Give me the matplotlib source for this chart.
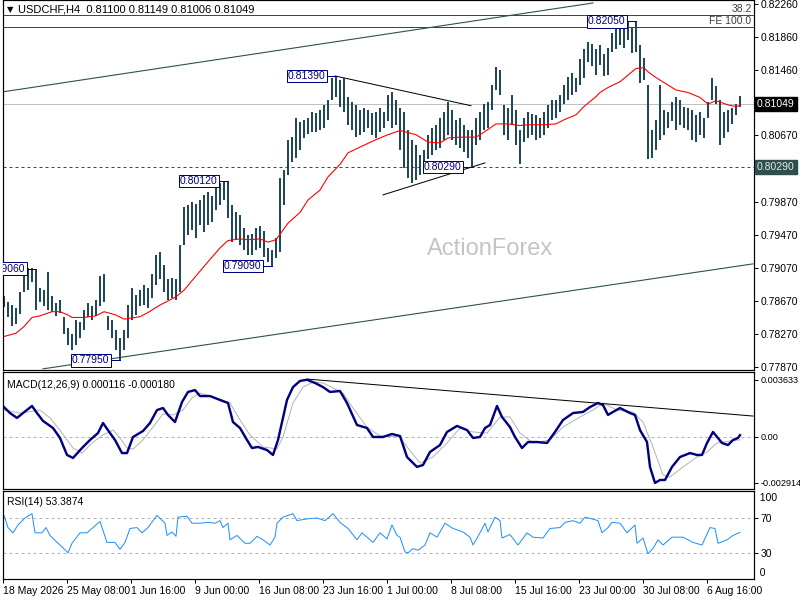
import matplotlib
matplotlib.use("Agg")
import matplotlib.pyplot as plt
import matplotlib.transforms as mtransforms

plt.rcParams['font.family'] = ['Liberation Sans', 'DejaVu Sans']
plt.rcParams['font.size'] = 7.5

# ---- price bars (H4, one entry per visible bar) ----
highs = [
    0.7873, 0.7866, 0.7862, 0.7859, 0.7878, 0.7902, 0.7907, 0.7907, 0.7906, 0.7883,
    0.7880, 0.7902, 0.7873, 0.7864, 0.7868, 0.7847, 0.7834, 0.7827, 0.7844, 0.7842,
    0.7856, 0.7865, 0.7861, 0.7868, 0.7897, 0.7900, 0.7849, 0.7844, 0.7832, 0.7822,
    0.7832, 0.7862, 0.7883, 0.7874, 0.7880, 0.7886, 0.7883, 0.7899, 0.7923, 0.7926,
    0.7911, 0.7893, 0.7895, 0.7893, 0.7935, 0.7980, 0.7983, 0.7986, 0.7984, 0.7989,
    0.7995, 0.7999, 0.7994, 0.8006, 0.8009, 0.8011, 0.8012, 0.7983, 0.7975, 0.7971,
    0.7955, 0.7947, 0.7948, 0.7955, 0.7958, 0.7951, 0.7931, 0.7929, 0.7943, 0.8016,
    0.8025, 0.8062, 0.8065, 0.8088, 0.8083, 0.8086, 0.8088, 0.8096, 0.8094, 0.8098,
    0.8104, 0.8110, 0.8137, 0.8139, 0.8134, 0.8137, 0.8113, 0.8108, 0.8104, 0.8098,
    0.8100, 0.8098, 0.8094, 0.8096, 0.8100, 0.8096, 0.8116, 0.8119, 0.8110, 0.8100,
    0.8096, 0.8074, 0.8062, 0.8056, 0.8044, 0.8050, 0.8068, 0.8076, 0.8080, 0.8088,
    0.8096, 0.8107, 0.8098, 0.8086, 0.8088, 0.8080, 0.8074, 0.8074, 0.8088, 0.8096,
    0.8105, 0.8108, 0.8128, 0.8150, 0.8146, 0.8104, 0.8100, 0.8116, 0.8098, 0.8074,
    0.8088, 0.8096, 0.8093, 0.8092, 0.8088, 0.8096, 0.8104, 0.8110, 0.8110, 0.8116,
    0.8128, 0.8138, 0.8142, 0.8137, 0.8159, 0.8171, 0.8180, 0.8178, 0.8171, 0.8177,
    0.8165, 0.8173, 0.8191, 0.8197, 0.8200, 0.8201, 0.8204, 0.8197, 0.8205, 0.8177,
    0.8161, 0.8128, 0.8074, 0.8086, 0.8128, 0.8098, 0.8096, 0.8108, 0.8113, 0.8110,
    0.8102, 0.8100, 0.8098, 0.8092, 0.8096, 0.8088, 0.8107, 0.8136, 0.8127, 0.8110,
    0.8096, 0.8098, 0.8100, 0.8105, 0.8115,
]
lows = [
    0.7860, 0.7847, 0.7837, 0.7839, 0.7851, 0.7878, 0.7880, 0.7890, 0.7856, 0.7866,
    0.7861, 0.7856, 0.7854, 0.7849, 0.7853, 0.7827, 0.7814, 0.7808, 0.7814, 0.7822,
    0.7832, 0.7847, 0.7844, 0.7849, 0.7861, 0.7866, 0.7832, 0.7822, 0.7808, 0.7795,
    0.7808, 0.7822, 0.7844, 0.7850, 0.7861, 0.7862, 0.7859, 0.7871, 0.7886, 0.7893,
    0.7878, 0.7868, 0.7871, 0.7868, 0.7878, 0.7935, 0.7947, 0.7953, 0.7943, 0.7959,
    0.7950, 0.7959, 0.7963, 0.7977, 0.7983, 0.7989, 0.7967, 0.7938, 0.7941, 0.7935,
    0.7929, 0.7923, 0.7922, 0.7929, 0.7931, 0.7920, 0.7914, 0.7909, 0.7919, 0.7926,
    0.7983, 0.8019, 0.8035, 0.8040, 0.8050, 0.8064, 0.8069, 0.8071, 0.8071, 0.8074,
    0.8076, 0.8086, 0.8110, 0.8113, 0.8102, 0.8096, 0.8080, 0.8074, 0.8065, 0.8068,
    0.8071, 0.8076, 0.8068, 0.8064, 0.8071, 0.8076, 0.8084, 0.8076, 0.8080, 0.8050,
    0.8028, 0.8016, 0.8010, 0.8013, 0.8019, 0.8022, 0.8038, 0.8044, 0.8050, 0.8052,
    0.8062, 0.8068, 0.8062, 0.8056, 0.8052, 0.8047, 0.8040, 0.8029, 0.8056, 0.8062,
    0.8074, 0.8076, 0.8098, 0.8122, 0.8116, 0.8068, 0.8062, 0.8080, 0.8056, 0.8032,
    0.8059, 0.8064, 0.8068, 0.8062, 0.8064, 0.8068, 0.8076, 0.8086, 0.8088, 0.8096,
    0.8105, 0.8110, 0.8116, 0.8120, 0.8128, 0.8137, 0.8156, 0.8151, 0.8140, 0.8152,
    0.8139, 0.8140, 0.8168, 0.8171, 0.8177, 0.8173, 0.8183, 0.8167, 0.8168, 0.8131,
    0.8134, 0.8038, 0.8040, 0.8050, 0.8062, 0.8068, 0.8076, 0.8084, 0.8074, 0.8080,
    0.8076, 0.8074, 0.8062, 0.8059, 0.8068, 0.8064, 0.8088, 0.8110, 0.8105, 0.8056,
    0.8064, 0.8071, 0.8081, 0.8092, 0.8101,
]
bars = list(range(len(highs)))

# red moving average (sampled along the chart)
ma_bar = [0, 3, 5, 7, 9, 12, 14, 16, 17, 20, 23, 25, 28, 30, 34, 36, 39, 43, 45, 49,
          52, 54, 56, 59, 61, 64, 66, 68, 71, 74, 76, 79, 81, 84, 86, 89, 93, 96, 99,
          103, 106, 109, 111, 114, 118, 120, 123, 126, 129, 131, 135, 138, 140, 143,
          145, 148, 149, 151, 154, 156, 158, 160, 161, 163, 166, 168, 171, 174, 176,
          178, 181, 183, 184]
ma_val = [0.7824, 0.7828, 0.7836, 0.7847, 0.7849, 0.7854, 0.7854, 0.7850, 0.7847, 0.7847,
          0.7849, 0.7854, 0.7850, 0.7845, 0.7848, 0.7853, 0.7862, 0.7872, 0.7880, 0.7903,
          0.7920, 0.7931, 0.7940, 0.7942, 0.7941, 0.7942, 0.7938, 0.7941, 0.7961, 0.7974,
          0.7989, 0.8001, 0.8017, 0.8032, 0.8046, 0.8053, 0.8062, 0.8068, 0.8073,
          0.8068, 0.8059, 0.8058, 0.8064, 0.8065, 0.8065, 0.8071, 0.8081, 0.8081, 0.8079,
          0.8080, 0.8080, 0.8081, 0.8086, 0.8092, 0.8102, 0.8114, 0.8119, 0.8125, 0.8132,
          0.8140, 0.8148, 0.8149, 0.8144, 0.8137, 0.8128, 0.8122, 0.8119, 0.8113, 0.8105,
          0.8109, 0.8104, 0.8102, 0.8103]

# MACD(12,26,9)
macd_bar = [0, 1.5, 3.25, 4.75, 7, 8.25, 9.75, 12.25, 14, 15.75, 17.25, 19.5, 21.5, 23.5,
            24.75, 26.5, 27.75, 29.5, 30.75, 32.25, 34.75, 36.5, 38.25, 39.75, 41, 42.75,
            44.5, 46, 47.75, 49, 51.5, 54, 56, 57.25, 59, 60.75, 62, 63.5, 65.75, 67.25,
            68.5, 70.75, 72.25, 74, 75.75, 77.75, 79.75, 81.5, 84, 85.75, 88.25, 90.75,
            92.25, 94.75, 97, 99, 100.75, 103.25, 104.75, 106.5, 109, 110.75, 113.25,
            115.75, 117.25, 119, 120.25, 121.5, 123.25, 124.5, 126.5, 127.75, 129.5, 131,
            133.25, 135.75, 137.75, 139.75, 142.25, 144.75, 146.5, 148.5, 149.75, 151,
            152.25, 154, 156.5, 157.75, 159, 160.75, 161.5, 162.75, 164, 165.25, 167,
            169, 171.5, 173.25, 174.5, 175.75, 177.25, 179.5, 181, 182.25, 183.5, 184]
macd_val = [0.00190, 0.00152, 0.00121, 0.00152, 0.00197, 0.00152, 0.00102, 0.00057,
            -0.00006, -0.00114, -0.00133, -0.00070, -0.00019, 0.00025, 0.00089, 0.00025,
            -0.00019, -0.00102, -0.00102, 0.00000, 0.00038, 0.00089, 0.00171, 0.00184,
            0.00140, 0.00095, 0.00222, 0.00286, 0.00298, 0.00260, 0.00260, 0.00235,
            0.00216, 0.00095, 0.00057, -0.00019, -0.00070, -0.00063, -0.00083, -0.00114,
            -0.00019, 0.00235, 0.00317, 0.00356, 0.003633, 0.00343, 0.00317, 0.00286,
            0.00292, 0.00216, 0.00076, 0.00057, 0.00000, 0.00000, 0.00019, 0.00006,
            -0.00127, -0.00190, -0.00178, -0.00095, -0.00051, 0.00032, 0.00070, 0.00044,
            -0.00006, 0.00000, 0.00057, 0.00076, 0.00197, 0.00127, 0.00063, 0.00000,
            -0.00070, -0.00032, -0.00032, -0.00038, 0.00032, 0.00108, 0.00152, 0.00159,
            0.00190, 0.00216, 0.00203, 0.00140, 0.00159, 0.00184, 0.00152, 0.00140,
            0.00044, -0.00032, -0.00190, -0.002914, -0.00273, -0.00273, -0.00190,
            -0.00127, -0.00102, -0.00114, -0.00114, -0.00038, 0.00032, -0.00038,
            -0.00051, -0.00019, -0.00006, 0.000116]
signal_bar = [0, 4, 9, 11.5, 14, 17.25, 19.5, 22, 24.75, 27.25, 29, 30.75, 32.25, 34.75,
              37.25, 39.75, 42.25, 44.75, 47, 49, 52.25, 56.5, 59, 61.5, 64.75, 68.25,
              69.75, 72.25, 74.75, 77.25, 79.75, 82.25, 84.75, 87.25, 90.75, 94, 99,
              100.75, 104, 107.25, 110.75, 114, 117.25, 120.75, 124, 126.5, 129, 132.25,
              136.5, 139.75, 144, 147.25, 149.75, 153.25, 157.25, 159.75, 162.25, 164.75,
              166.5, 169.75, 173.25, 175.75, 178.25, 181.5, 184]
signal_val = [0.00171, 0.00152, 0.00171, 0.00121, 0.00044, -0.00070, -0.00102, -0.00038,
              0.00013, 0.00044, -0.00006, -0.00070, -0.00076, -0.00019, 0.00063, 0.00146,
              0.00140, 0.00171, 0.00248, 0.00279, 0.00254, 0.00216, 0.00108, 0.00013,
              -0.00063, -0.00076, 0.00000, 0.00216, 0.00317, 0.00349, 0.00343, 0.00311,
              0.00279, 0.00184, 0.00063, 0.00006, 0.00000, -0.00063, -0.00165, -0.00127,
              -0.00038, 0.00057, 0.00032, 0.00025, 0.00127, 0.00127, 0.00025, -0.00038,
              -0.00019, 0.00063, 0.00127, 0.00171, 0.00216, 0.00171, 0.00159, 0.00095,
              -0.00063, -0.00241, -0.00254, -0.00190, -0.00127, -0.00095, -0.00038,
              -0.00025, -0.00018]

# RSI(14)
rsi_bar = [0, 1, 2.25, 3.5, 5.25, 7, 7.75, 9.5, 10.5, 11.5, 13.25, 14.5, 16, 17, 19,
           20.75, 22.25, 24, 25.75, 27.75, 29, 30.25, 31.5, 33.25, 34.5, 36, 38.25, 40.25,
           40.75, 42, 43, 43.5, 45.75, 47, 49, 51, 52.75, 54, 54.75, 56, 56.5, 58.25,
           60.25, 61.5, 63.25, 64.75, 66.5, 67.75, 68.25, 69.75, 72.25, 73.25, 75.75,
           78.25, 80.25, 82.25, 84, 86, 88.25, 89.5, 92.25, 94, 95.75, 97, 98.25, 99,
           100.25, 101, 102.25, 103.5, 105.25, 106.5, 108.25, 110.25, 112.25, 114.75,
           116.5, 117.25, 119, 120.25, 121, 122.75, 124, 124.5, 126.5, 128.5, 130.75,
           132.25, 134.75, 136.5, 139, 140.25, 142.25, 144, 145.25, 147, 148.5, 149.5,
           151, 152, 154, 155.75, 157.75, 158.25, 159.75, 161, 162.25, 163.5, 164.75,
           167, 169.75, 172.25, 174.5, 176.5, 177.75, 178.5, 180.75, 182.25, 184]
rsi_val = [73, 59, 53, 62, 70, 75, 53, 53, 59, 50, 42, 37, 30, 41, 53, 53, 59, 66, 42, 42,
           34, 42, 58, 59, 53, 59, 73, 64, 50, 54, 49, 71, 72, 64, 64, 65, 64, 67, 59, 64,
           45, 50, 41, 41, 49, 45, 39, 48, 64, 71, 75, 67, 69, 70, 67, 75, 65, 58, 45, 53,
           42, 53, 46, 62, 50, 48, 31, 30, 35, 33, 39, 53, 48, 64, 58, 54, 48, 39, 53, 64,
           54, 71, 67, 47, 51, 39, 53, 48, 47, 58, 59, 65, 67, 64, 71, 69, 67, 53, 59, 65,
           64, 53, 62, 41, 47, 29, 35, 45, 39, 48, 48, 42, 39, 59, 58, 41, 45, 50, 53.3874]

# chart objects
label_bar = [8, 29, 56, 67, 83, 117, 158]
label_price = [0.79060, 0.77950, 0.80120, 0.79090, 0.81390, 0.80290, 0.82050]
channel_up = ([-0.25, 147.25], [0.81198, 0.82272])
channel_dn = ([9.75, 187.25], [0.77849, 0.79118])
tri_upper = ([82.75, 116.75], [0.81390, 0.81030])
tri_lower = ([94.75, 120.25], [0.79952, 0.80339])
macd_trend = ([75.75, 187.25], [0.00368, 0.00133])
fib_382 = 0.82127
fe_100 = 0.81984
last_price = 0.81049
support = 0.80290

price_ticks = [0.82260, 0.81860, 0.81460, 0.80670,
               0.79870, 0.79470, 0.79070, 0.78670, 0.78270, 0.77870]
date_labels = ['18 May 2026', '25 May 08:00', '1 Jun 16:00', '9 Jun 00:00',
               '16 Jun 08:00', '23 Jun 16:00', '1 Jul 00:00', '8 Jul 08:00',
               '15 Jul 16:00', '23 Jul 00:00', '30 Jul 08:00', '6 Aug 16:00']
date_pos = [-0.25 + 16 * k for k in range(len(date_labels))]

BAR = '#1b4259'
SLATE = '#2f4f4f'
NAVY = '#000080'
PX = 0.72  # one pixel in points

fig = plt.figure(figsize=(8, 6), dpi=100)
fig.patch.set_facecolor('white')


def px_axes(x0, y0, x1, y1):
    return fig.add_axes([x0 / 800, 1 - y1 / 600, (x1 - x0) / 800, (y1 - y0) / 600])


def fig_text(x, y, s, **kw):
    fig.text(x / 800, 1 - y / 600, s, **kw)


ax = px_axes(3, 0, 754, 370)
ax_m = px_axes(3, 372, 754, 489)
ax_r = px_axes(3, 491, 754, 579)

for a in (ax, ax_m, ax_r):
    a.set_xlim(-0.25, 187.5)
    for s in a.spines.values():
        s.set_linewidth(PX * 1.2)
        s.set_color('black')
    a.yaxis.tick_right()
    a.tick_params(axis='y', direction='out', length=3, width=PX, pad=1.5,
                  labelsize=7.5, left=False)
    a.tick_params(axis='x', bottom=False, labelbottom=False)

# ---- main panel ----
ax.set_ylim(0.77835, 0.82308)
ax.set_yticks(price_ticks)
ax.set_yticklabels(['%.5f' % v for v in price_ticks])

ax.text(0.648, 0.327, 'ActionForex', transform=ax.transAxes, ha='center', va='center',
        fontsize=17, color='#c4c4c4')

ax.axhline(fib_382, color=SLATE, lw=PX)
ax.axhline(fe_100, color=SLATE, lw=PX)
ax.axhline(last_price, color='#c0c0c0', lw=PX)
ax.axhline(support, color=SLATE, lw=PX, ls=(0, (3, 3)))
ax.text(186.9, fib_382 + 0.00008, '38.2', ha='right', va='bottom', color='#404040')
ax.text(186.9, fe_100 + 0.00008, 'FE 100.0', ha='right', va='bottom', color='#404040')

ax.plot(*channel_up, color=SLATE, lw=PX * 1.1)
ax.plot(*channel_dn, color=SLATE, lw=PX * 1.1)
ax.plot(*tri_upper, color='black', lw=PX)
ax.plot(*tri_lower, color='black', lw=PX)

ax.vlines(bars, lows, highs, color=BAR, lw=1.4)
ax.plot(ma_bar, ma_val, color='#ff0000', lw=PX * 1.1)

for b, p in zip(label_bar, label_price):
    ax.plot([b - 2.6, b], [p, p], color=NAVY, lw=PX)
    ax.text(b - 2.6, p, '%.5f' % p, ha='right', va='center', color=NAVY, fontsize=7.5,
            clip_on=True,
            bbox=dict(boxstyle='square,pad=0.12', fc='white', ec=NAVY, lw=PX))

ax.annotate('%.5f' % last_price, xy=(1.0, last_price),
            xycoords=('axes fraction', 'data'), xytext=(3, 0),
            textcoords='offset pixels', ha='left', va='center', color='white',
            bbox=dict(boxstyle='square,pad=0.18', fc='black', ec='black'))
ax.annotate('%.5f' % support, xy=(1.0, support),
            xycoords=('axes fraction', 'data'), xytext=(3, 0),
            textcoords='offset pixels', ha='left', va='center', color='#e8e8e8',
            bbox=dict(boxstyle='square,pad=0.18', fc=SLATE, ec=SLATE))

# ---- MACD panel ----
ax_m.set_ylim(-0.003302, 0.004127)
ax_m.set_yticks([0.003633, 0.0, -0.002914])
ax_m.set_yticklabels(['0.003633', '0.00', '-0.002914'])
ax_m.tick_params(axis='y', labelsize=6.6)
ax_m.axhline(0, color='#b4b4b4', lw=PX, ls=(0, (3, 3)))
ax_m.plot(signal_bar, signal_val, color='#b4b4b4', lw=PX)
ax_m.plot(macd_bar, macd_val, color=NAVY, lw=PX * 2.4)
ax_m.plot(*macd_trend, color='black', lw=PX)
ax_m.text(0.005, 0.93, 'MACD(12,26,9) 0.000116 -0.000180', transform=ax_m.transAxes,
          ha='left', va='top')

# ---- RSI panel ----
ax_r.set_ylim(0, 101)
ax_r.set_yticks([70, 30])
ax_r.set_yticklabels(['70', '30'])
blend = mtransforms.blended_transform_factory(ax_r.transAxes, ax_r.transData)
ax_r.text(1.0, 92.5, '  100', transform=blend, ha='left', va='center')
ax_r.text(1.0, 7.0, '  0', transform=blend, ha='left', va='center')
ax_r.axhline(70, color='#b4b4b4', lw=PX, ls=(0, (3, 3)))
ax_r.axhline(30, color='#b4b4b4', lw=PX, ls=(0, (3, 3)))
ax_r.plot(rsi_bar, rsi_val, color='#1e90ff', lw=PX)
ax_r.text(0.005, 0.93, 'RSI(14) 53.3874', transform=ax_r.transAxes, ha='left', va='top')

ax_r.set_xticks(date_pos)
ax_r.set_xticklabels(date_labels, ha='left')
ax_r.tick_params(axis='x', bottom=True, labelbottom=True, direction='out', length=3,
                 width=PX, pad=2, labelsize=7.5)

# ---- title line ----
fig_text(7, 10, '\u25bc', va='center', ha='left', fontsize=6, family=['DejaVu Sans'])
fig_text(18, 10, 'USDCHF,H4  0.81100 0.81149 0.81006 0.81049', va='center', ha='left',
         fontsize=8)

fig.savefig('out.png', dpi=100)
